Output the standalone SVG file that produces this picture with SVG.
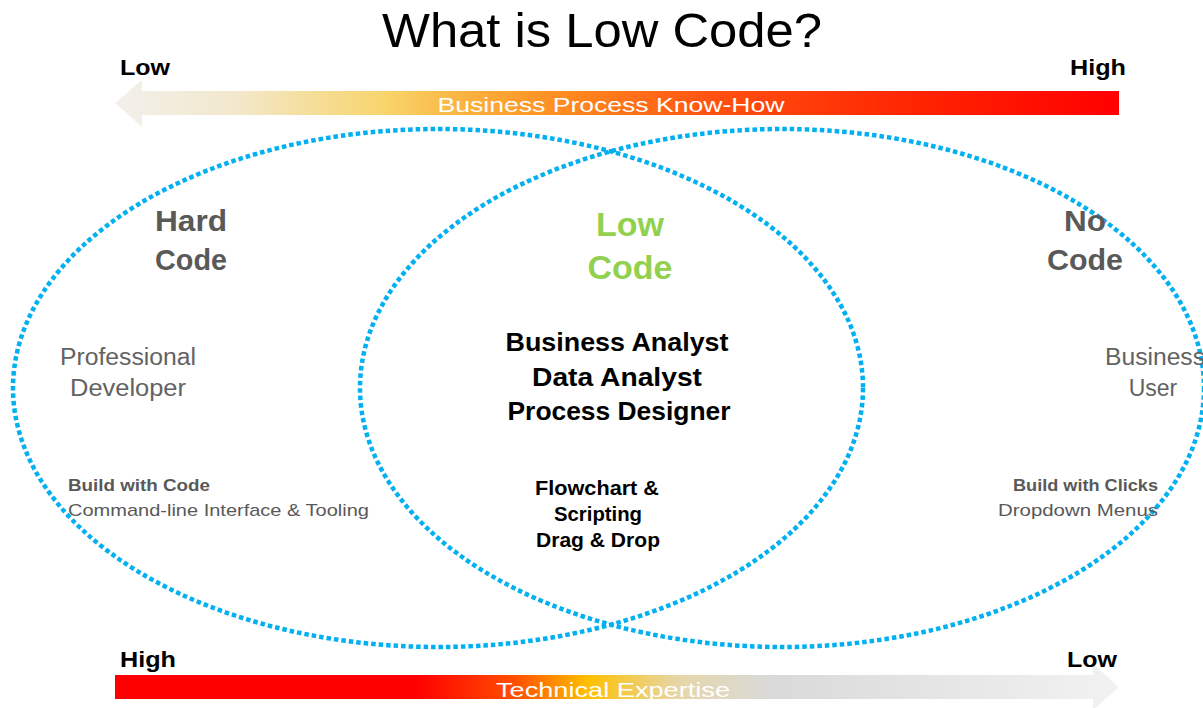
<svg xmlns="http://www.w3.org/2000/svg" width="1203" height="708" viewBox="0 0 1203 708">
<defs>
<linearGradient id="gTop" gradientUnits="userSpaceOnUse" x1="115" y1="0" x2="1119" y2="0">
<stop offset="0" stop-color="#F2F0EC"/>
<stop offset="0.12" stop-color="#F2E8CC"/>
<stop offset="0.27" stop-color="#F8D46A"/>
<stop offset="0.36" stop-color="#FBAE3A"/>
<stop offset="0.45" stop-color="#FF8A20"/>
<stop offset="0.6" stop-color="#FF5010"/>
<stop offset="0.8" stop-color="#FF2400"/>
<stop offset="1" stop-color="#FF0000"/>
</linearGradient>
<linearGradient id="gBot" gradientUnits="userSpaceOnUse" x1="115" y1="0" x2="1119" y2="0">
<stop offset="0" stop-color="#FF0000"/>
<stop offset="0.3" stop-color="#FF0000"/>
<stop offset="0.4" stop-color="#FF5000"/>
<stop offset="0.47" stop-color="#FFC000"/>
<stop offset="0.56" stop-color="#E6D6A8"/>
<stop offset="0.65" stop-color="#D9D9D9"/>
<stop offset="1" stop-color="#F2F2F2"/>
</linearGradient>
<style>
.venn{fill:none;stroke:#00B0F0;stroke-width:4.5;stroke-dasharray:4.5 3}
.t{font-family:"Liberation Sans",Arial,sans-serif}
.b{font-weight:bold}
.lbl{font-size:22px;font-weight:bold;fill:#000}
.head{font-size:30px;font-weight:bold;fill:#595959;text-anchor:middle}
.role{font-size:23px;fill:#626262;text-anchor:middle}
.sm{font-size:17px;fill:#595959}
.wh{fill:#FFFFFF;font-size:21px;text-anchor:middle}
</style>
</defs>

<g id="title">
<text class="t" x="382" y="47" font-size="48" textLength="440" lengthAdjust="spacingAndGlyphs" fill="#000">What is Low Code?</text>
</g>

<g id="top-arrow">
<path d="M1119 91 L142 91 L142 80 L115 103 L142 127 L142 115 L1119 115 Z" fill="url(#gTop)"/>
<text class="t wh" x="611" y="112" textLength="347" lengthAdjust="spacingAndGlyphs">Business Process Know-How</text>
<text class="t lbl" x="120" y="75" textLength="50" lengthAdjust="spacingAndGlyphs">Low</text>
<text class="t lbl" x="1126" y="75" text-anchor="end" textLength="56" lengthAdjust="spacingAndGlyphs">High</text>
</g>

<g id="bottom-arrow">
<path d="M115 675 L1093 675 L1093 664 L1119 687 L1093 710 L1093 699 L115 699 Z" fill="url(#gBot)"/>
<text class="t wh" x="613" y="697" textLength="234" lengthAdjust="spacingAndGlyphs">Technical Expertise</text>
<text class="t lbl" x="120" y="667" textLength="56" lengthAdjust="spacingAndGlyphs">High</text>
<text class="t lbl" x="1117" y="667" text-anchor="end" textLength="50" lengthAdjust="spacingAndGlyphs">Low</text>
</g>

<g id="connectors">
<ellipse id="ellipse-left" class="venn" cx="438" cy="388" rx="425" ry="259"/>
<ellipse id="ellipse-right" class="venn" cx="782" cy="388" rx="422" ry="259"/>
</g>

<g id="hard-code">
<text class="t head" x="191" y="231" textLength="72" lengthAdjust="spacingAndGlyphs">Hard</text>
<text class="t head" x="191" y="270" textLength="72" lengthAdjust="spacingAndGlyphs">Code</text>
<text class="t role" x="128" y="365" textLength="136" lengthAdjust="spacingAndGlyphs">Professional</text>
<text class="t role" x="128" y="396" textLength="116" lengthAdjust="spacingAndGlyphs">Developer</text>
<text class="t sm b" x="68" y="491" textLength="142" lengthAdjust="spacingAndGlyphs">Build with Code</text>
<text class="t sm" x="68" y="516" textLength="301" lengthAdjust="spacingAndGlyphs">Command-line Interface &amp; Tooling</text>
</g>

<g id="low-code">
<text class="t head" x="630" y="236" style="fill:#92D050;font-size:34px">Low</text>
<text class="t head" x="630" y="279" style="fill:#92D050;font-size:34px">Code</text>
<text class="t b" x="617" y="351" font-size="26" text-anchor="middle" fill="#000" textLength="223" lengthAdjust="spacingAndGlyphs">Business Analyst</text>
<text class="t b" x="617" y="386" font-size="26" text-anchor="middle" fill="#000" textLength="170" lengthAdjust="spacingAndGlyphs">Data Analyst</text>
<text class="t b" x="619" y="420" font-size="26" text-anchor="middle" fill="#000" textLength="223" lengthAdjust="spacingAndGlyphs">Process Designer</text>
<text class="t b" x="597" y="495" font-size="20" text-anchor="middle" fill="#000" textLength="124" lengthAdjust="spacingAndGlyphs">Flowchart &amp;</text>
<text class="t b" x="598" y="521" font-size="20" text-anchor="middle" fill="#000" textLength="88" lengthAdjust="spacingAndGlyphs">Scripting</text>
<text class="t b" x="598" y="547" font-size="20" text-anchor="middle" fill="#000" textLength="124" lengthAdjust="spacingAndGlyphs">Drag &amp; Drop</text>
</g>

<g id="no-code">
<text class="t head" x="1085" y="231" textLength="42" lengthAdjust="spacingAndGlyphs">No</text>
<text class="t head" x="1085" y="270" textLength="76" lengthAdjust="spacingAndGlyphs">Code</text>
<text class="t role" x="1105" y="365" style="text-anchor:start" textLength="100" lengthAdjust="spacingAndGlyphs">Business</text>
<text class="t role" x="1153" y="396">User</text>
<text class="t sm b" x="1158" y="491" style="text-anchor:end" textLength="145" lengthAdjust="spacingAndGlyphs">Build with Clicks</text>
<text class="t sm" x="1158" y="516" style="text-anchor:end" textLength="160" lengthAdjust="spacingAndGlyphs">Dropdown Menus</text>
</g>
</svg>
